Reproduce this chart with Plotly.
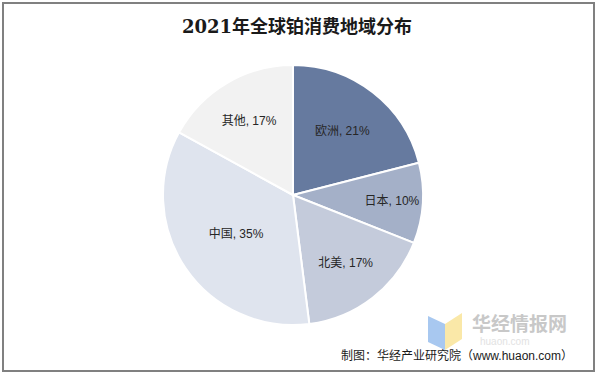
import plotly.graph_objects as go

labels = ["欧洲", "日本", "北美", "中国", "其他"]
values = [21, 10, 17, 35, 17]
colors = ["#667a9f", "#a4b0c8", "#c4cbdb", "#dfe4ee", "#f2f2f2"]

W, H = 597, 375
cx, cy, r = 293, 195, 130

fig = go.Figure(go.Pie(
    labels=labels, values=values, sort=False, direction="clockwise", rotation=0,
    marker=dict(colors=colors, line=dict(color="white", width=2)),
    texttemplate="%{label}, %{value}%", textposition="inside",
    insidetextorientation="horizontal",
    textfont=dict(family="Liberation Sans, Noto Sans CJK SC", size=12, color="#262626"),
    hoverinfo="label+value", showlegend=False,
    domain=dict(x=[(cx - r) / W, (cx + r) / W], y=[1 - (cy + r) / H, 1 - (cy - r) / H]),
))

shapes = [
    dict(type="rect", xref="paper", yref="paper", x0=3 / W, x1=594 / W, y0=1 - 371 / H, y1=1 - 3 / H,
         line=dict(color="#808080", width=2), fillcolor="rgba(0,0,0,0)", layer="above"),
    # watermark logo
    dict(type="path", xref="paper", yref="paper",
         path=f"M {428/W},{1-316/H} L {445/W},{1-324/H} L {445/W},{1-350/H} L {428/W},{1-342/H} Z",
         fillcolor="#a8c8f0", line=dict(width=0), layer="above"),
    dict(type="path", xref="paper", yref="paper",
         path=f"M {445/W},{1-324/H} L {462/W},{1-313/H} L {462/W},{1-339/H} L {445/W},{1-350/H} Z",
         fillcolor="#fae8a8", line=dict(width=0), layer="above"),
]

annotations = [
    dict(text="<b>2021年全球铂消费地域分布</b>", x=297 / W, y=1 - 27 / H, xref="paper", yref="paper",
         showarrow=False, xanchor="center", yanchor="middle",
         font=dict(family="DejaVu Serif, Noto Sans CJK SC", size=18, color="#1a1a1a")),
    dict(text="<b>华经情报网</b>", x=470 / W, y=1 - 322 / H, xref="paper", yref="paper",
         showarrow=False, xanchor="left", yanchor="middle",
         font=dict(family="Noto Sans CJK SC", size=19, color="#c8c8c8")),
    dict(text="huaon.com", x=478 / W, y=1 - 341 / H, xref="paper", yref="paper",
         showarrow=False, xanchor="left", yanchor="middle",
         font=dict(family="Liberation Sans", size=10, color="#e2e2e2")),
    dict(text="制图：华经产业研究院（www.huaon.com）", x=575 / W, y=1 - 355 / H, xref="paper", yref="paper",
         showarrow=False, xanchor="right", yanchor="middle",
         font=dict(family="Liberation Sans, Noto Sans CJK SC", size=12, color="#1a1a1a")),
]

fig.update_layout(
    width=W, height=H, margin=dict(l=0, r=0, t=0, b=0),
    paper_bgcolor="white", plot_bgcolor="white",
    shapes=shapes, annotations=annotations,
)

fig.write_html("out.html", config={"displayModeBar": False},
               post_script="document.body.style.margin='0';document.body.style.overflow='hidden';")
